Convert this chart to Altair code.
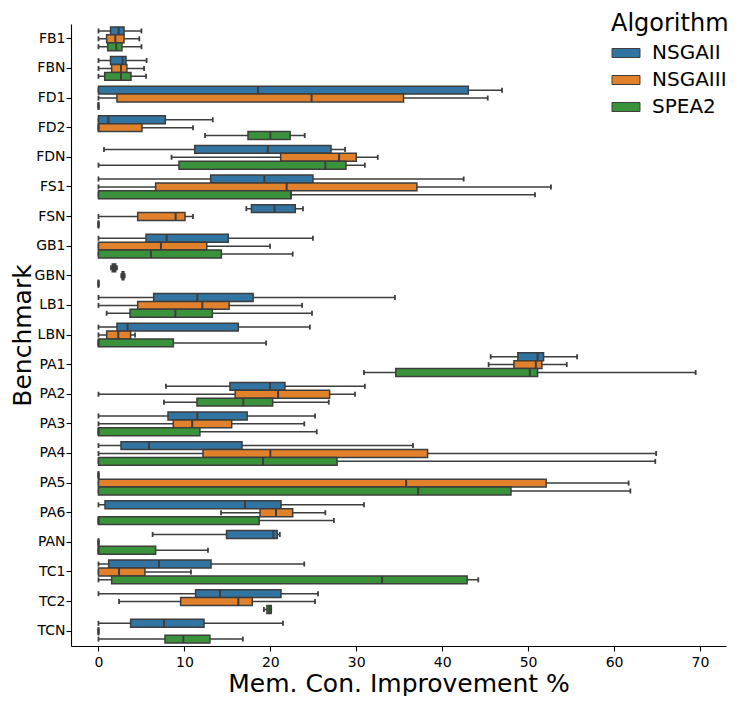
import altair as alt
import pandas as pd

benchmarks = ["FB1", "FBN", "FD1", "FD2", "FDN", "FS1", "FSN", "GB1", "GBN", "LB1", "LBN",
              "PA1", "PA2", "PA3", "PA4", "PA5", "PA6", "PAN", "TC1", "TC2", "TCN"]
algorithms = ["NSGAII", "NSGAIII", "SPEA2"]
colors = ["#3274a1", "#e1812c", "#3a923a"]

# columns: whisker low, q1, median, q3, whisker high (per benchmark)
nsgaii_lo = [0, 0, 0, 0, 0.64, 0, 17.2, 0, 1.45, 0, 0, 45.64, 7.85, 0, 0, 0, 0, 6.3, 0, 0, 0]
nsgaii_q1 = [1.4, 1.4, 0, 0, 11.2, 13.05, 17.8, 5.53, 1.6, 6.42, 2.15, 48.8, 15.3, 8.09, 2.62, 0, 0.76, 14.9, 1.18, 11.3, 3.74]
nsgaii_med = [2.35, 2.8, 18.56, 1.15, 19.7, 19.3, 20.5, 7.93, 1.8, 11.5, 3.39, 51.1, 19.96, 11.5, 5.88, 0, 17.05, 20.35, 7.04, 14.14, 7.62]
nsgaii_q3 = [2.97, 3.2, 43.04, 7.78, 27.06, 24.96, 22.9, 15.1, 2.0, 18.0, 16.27, 51.8, 21.7, 17.3, 16.7, 0, 21.24, 20.8, 13.1, 21.24, 12.28]
nsgaii_hi = [5.0, 5.6, 46.96, 13.3, 28.7, 42.5, 23.8, 24.96, 2.15, 34.5, 24.6, 55.7, 31.0, 25.2, 36.6, 0, 30.9, 21.1, 23.95, 25.55, 21.47]

nsgaiii_lo = [0, 0, 0, 0, 8.5, 0, 0, 0, 2.65, 0, 0, 45.4, 0, 0, 0, 0, 14.26, 0, 0, 2.39, 0]
nsgaiii_q1 = [0.95, 1.53, 2.15, 0, 21.2, 6.65, 4.56, 0, 2.75, 4.56, 0.95, 48.35, 15.9, 8.7, 12.16, 0, 18.8, 0, 0, 9.56, 0]
nsgaiii_med = [1.96, 2.62, 24.8, 0, 28.0, 21.9, 8.98, 7.27, 2.85, 12.08, 2.3, 50.9, 20.9, 10.9, 20.0, 35.8, 20.66, 0, 2.39, 16.27, 0]
nsgaiii_q3 = [2.97, 3.3, 35.5, 5.06, 30.0, 37.06, 10.07, 12.6, 2.95, 15.2, 3.74, 51.6, 26.9, 15.5, 38.3, 52.1, 22.6, 0, 5.41, 17.9, 0]
nsgaiii_hi = [4.75, 5.3, 45.3, 11.0, 32.5, 52.66, 11.0, 19.96, 3.05, 23.7, 4.25, 54.5, 29.85, 23.95, 64.9, 61.7, 26.4, 0, 10.76, 25.2, 0]

spea2_lo = [0, 0, 0, 12.4, 0, 0, 0, 0, 0, 0.95, 0, 30.9, 7.62, 0, 0, 0, 0, 0, 0, 19.25, 0]
spea2_q1 = [1.07, 0.72, 0, 17.4, 9.37, 0, 0, 0, 0, 3.67, 0, 34.6, 11.46, 0, 0, 0, 0, 0, 1.53, 19.6, 7.74]
spea2_med = [2.07, 2.62, 0, 20.0, 26.4, 22.4, 0, 6.1, 0, 8.94, 0, 50.2, 16.85, 0, 19.15, 37.2, 0, 0, 33.0, 19.9, 9.87]
spea2_q3 = [2.73, 3.78, 0, 22.3, 28.8, 22.4, 0, 14.3, 0, 13.25, 8.71, 51.1, 20.27, 11.8, 27.76, 48.0, 18.7, 6.65, 42.9, 20.1, 12.97]
spea2_hi = [5.0, 5.53, 0, 24.0, 31.0, 50.8, 0, 22.6, 0, 24.85, 19.5, 69.5, 26.8, 25.4, 64.8, 61.9, 27.4, 12.74, 44.2, 20.1, 16.8]

series = {
    "NSGAII": (nsgaii_lo, nsgaii_q1, nsgaii_med, nsgaii_q3, nsgaii_hi),
    "NSGAIII": (nsgaiii_lo, nsgaiii_q1, nsgaiii_med, nsgaiii_q3, nsgaiii_hi),
    "SPEA2": (spea2_lo, spea2_q1, spea2_med, spea2_q3, spea2_hi),
}

rows = []
for alg in algorithms:
    lo, q1, med, q3, hi = series[alg]
    for i, b in enumerate(benchmarks):
        rows.append({"Benchmark": b, "Algorithm": alg, "lo": lo[i], "q1": q1[i],
                     "med": med[i], "q3": q3[i], "hi": hi[i]})
df = pd.DataFrame(rows)

EDGE = "#3d3d3d"
FONT = "DejaVu Sans"

xscale = alt.Scale(domain=[-3.2, 73.03], nice=False, zero=False)
xaxis = alt.Axis(title="Mem. Con. Improvement %", values=[0, 10, 20, 30, 40, 50, 60, 70],
                 grid=False, tickSize=5, labelPadding=4, titlePadding=2)
yenc = alt.Y("Benchmark:N", sort=benchmarks,
             scale=alt.Scale(paddingInner=0, paddingOuter=0),
             axis=alt.Axis(title="Benchmark", grid=False, tickSize=5, labelPadding=1, titlePadding=-1))
yoff = alt.YOffset("Algorithm:N", sort=algorithms,
                   scale=alt.Scale(paddingInner=0, paddingOuter=0.375))

base = alt.Chart(df)

whisk = base.mark_rule(color=EDGE, strokeWidth=1.5).encode(
    x=alt.X("lo:Q", scale=xscale, axis=xaxis), x2="hi:Q", y=yenc, yOffset=yoff)
cap_lo = base.mark_tick(color=EDGE, size=5, thickness=1.8, opacity=1).encode(
    x=alt.X("lo:Q", scale=xscale), y=yenc, yOffset=yoff)
cap_hi = base.mark_tick(color=EDGE, size=5, thickness=1.8, opacity=1).encode(
    x=alt.X("hi:Q", scale=xscale), y=yenc, yOffset=yoff)
box = base.mark_bar(stroke=EDGE, strokeWidth=1.5, opacity=1).encode(
    x=alt.X("q1:Q", scale=xscale), x2="q3:Q", y=yenc, yOffset=yoff,
    color=alt.Color("Algorithm:N", sort=algorithms,
                    scale=alt.Scale(domain=algorithms, range=colors),
                    legend=alt.Legend(title="Algorithm", orient="none", legendX=540, legendY=-12,
                                      symbolType="M-1,-0.5L2.11,-0.5L2.11,0.5L-1,0.5Z",
                                      symbolSize=324, symbolStrokeColor=EDGE, symbolStrokeWidth=1,
                                      symbolOpacity=1, labelOffset=21, rowPadding=7,
                                      titleFontSize=24, labelFontSize=20, titleFontWeight="normal",
                                      titlePadding=7, padding=0)))
med = base.mark_tick(color=EDGE, thickness=2, opacity=1).encode(
    x=alt.X("med:Q", scale=xscale), y=yenc, yOffset=yoff,
    size=alt.value(8))

chart = alt.layer(whisk, cap_lo, cap_hi, box, med).properties(
    width=655, height=622,
    padding={"left": 2, "top": 4, "right": 5, "bottom": 0},
).configure_view(stroke=None).configure_axis(
    labelFont=FONT, titleFont=FONT, labelFontSize=14, titleFontSize=25,
    titleFontWeight="normal", labelColor="black", titleColor="black",
    domainColor="black", tickColor="black", domainWidth=1.1, tickWidth=1.1,
).configure_legend(
    labelFont=FONT, titleFont=FONT, labelColor="black", titleColor="black",
)

chart.save("out.html", embed_options={"renderer": "svg", "actions": False})
